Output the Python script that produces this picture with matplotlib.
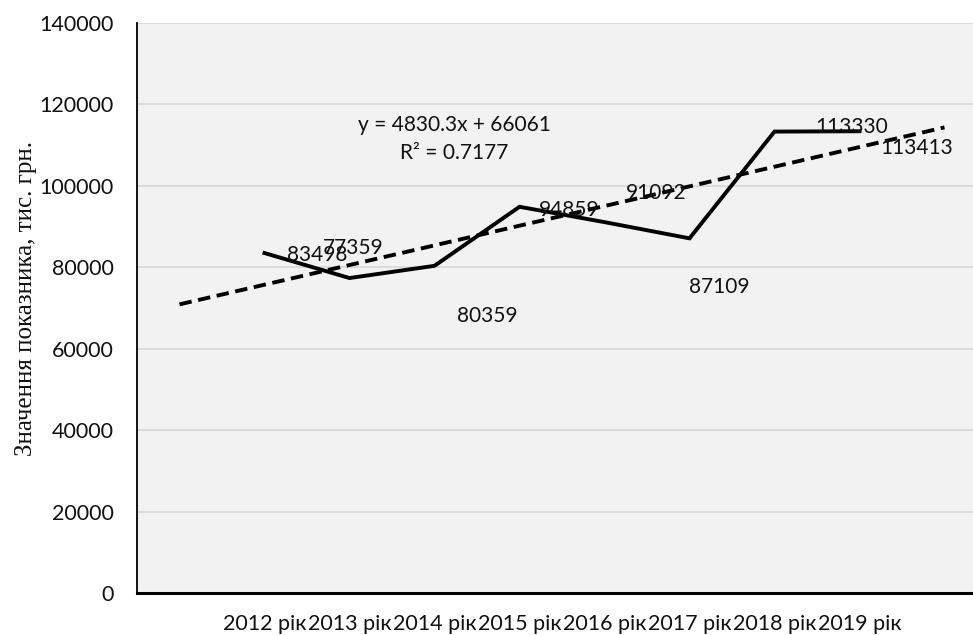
import numpy as np
import matplotlib
matplotlib.use("Agg")
import matplotlib.pyplot as plt

# yearly values of the indicator, thousand UAH
years = ["2012 рік", "2013 рік", "2014 рік", "2015 рік",
         "2016 рік", "2017 рік", "2018 рік", "2019 рік"]
values = [83498, 77359, 80359, 94859, 91092, 87109, 113330, 113413]

# linear trend as reported for the series
trend_slope = 4830.3
trend_intercept = 66061
trend_r2 = 0.7177

# label offsets from each point (pixels, x right / y up)
label_offsets = [(53, -2), (4, 30), (53, -50), (50, -3),
                 (52, 29), (30, -49), (77, 5), (57, -17)]

plt.rcParams["font.family"] = ["Lato", "DejaVu Sans"]

fig = plt.figure(figsize=(9.73, 6.35), dpi=100)
fig.patch.set_facecolor("white")
# category axis holds 10 slots; the series sits in slots 2..9
ax = fig.add_axes([137 / 973, 42 / 635, 850 / 973, 570 / 635])
ax.set_facecolor("#f2f2f2")

x = np.arange(2, 2 + len(values))
ax.plot(x, values, color="black", lw=2.8, solid_joinstyle="miter", zorder=3)

xt = np.array([1, 10])
ax.plot(xt, trend_slope * xt + trend_intercept, color="black", lw=2.8,
        linestyle=(0, (3.2, 1.7)), dash_capstyle="butt", zorder=2)

for xi, v, (dx, dy) in zip(x, values, label_offsets):
    ax.annotate(str(v), (xi, v), xytext=(dx, dy), textcoords="offset pixels",
                ha="center", va="center", fontsize=15, color="#111111", zorder=4)

fig.text(454 / 973, 1 - 125 / 635, f"y = {trend_slope}x + {trend_intercept}",
         ha="center", va="center", fontsize=15, color="#111111")
fig.text(454 / 973, 1 - 153 / 635, f"R² = {trend_r2}",
         ha="center", va="center", fontsize=15, color="#111111")

ax.set_xlim(0.5, 10.5)
ax.set_ylim(0, 140000)
ax.set_yticks(np.arange(0, 140001, 20000))
ax.set_xticks(x)
ax.set_xticklabels(years)
ax.tick_params(axis="y", length=0, labelsize=15.5, colors="#111111", pad=17)
ax.tick_params(axis="x", length=0, labelsize=15.5, colors="#111111", pad=15)

ax.grid(axis="y", color="#d9d9d9", lw=1.3)
ax.set_axisbelow(True)
for side in ("top", "right"):
    ax.spines[side].set_visible(False)
ax.spines["left"].set_color("black")
ax.spines["left"].set_linewidth(1.3)
ax.spines["bottom"].set_color("black")
ax.spines["bottom"].set_linewidth(2.2)

fig.text(26 / 973, 1 - 299 / 635, "Значення показника, тис. грн.",
         rotation=90, ha="center", va="center", fontsize=18,
         family=["Liberation Serif", "DejaVu Serif"], color="#111111")

fig.savefig("out.png", dpi=100)
